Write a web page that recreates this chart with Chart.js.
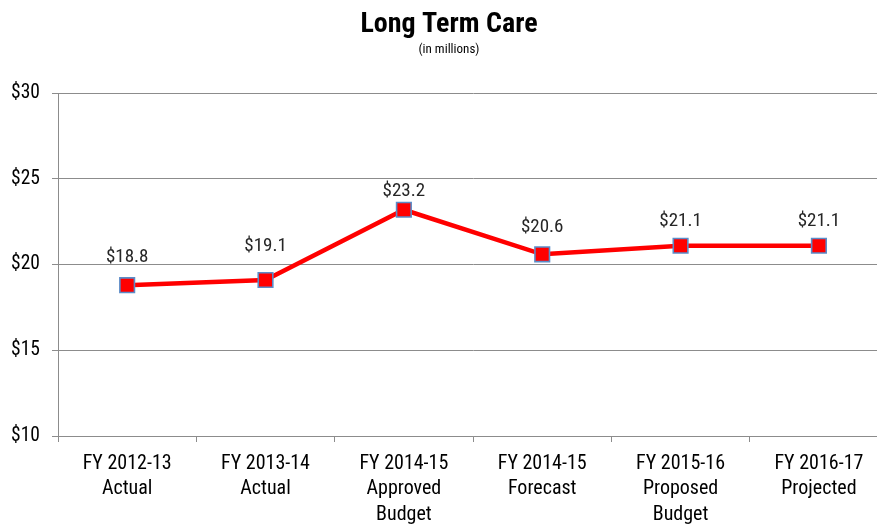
<!DOCTYPE html>
<html>
<head>
<meta charset="utf-8">
<script src="https://cdn.jsdelivr.net/npm/chart.js@4/dist/chart.umd.min.js"></script>
<style>
html,body{margin:0;padding:0;background:#fff;overflow:hidden;width:877px;height:527px;}
#wrap{width:900px;height:527px;}
</style>
</head>
<body>
<div id="wrap"><canvas id="c" width="900" height="527"></canvas></div>
<script>
const categories = [
  ["FY 2012-13","Actual"],
  ["FY 2013-14","Actual"],
  ["FY 2014-15","Approved","Budget"],
  ["FY 2014-15","Forecast"],
  ["FY 2015-16","Proposed","Budget"],
  ["FY 2016-17","Projected"]
];
const values = [18.8, 19.1, 23.2, 20.6, 21.1, 21.1];
const yTicks = [10, 15, 20, 25, 30];
const titleText = "Long Term Care";
const subtitleText = "(in millions)";

// label placement (pixels above each point), as laid out in the original
const labelLift = [28, 34, 19, 27, 24, 24];

const FONT = "'Liberation Sans Narrow', 'Arial Narrow', 'Roboto Condensed', 'Liberation Sans', sans-serif";

const labelPlugin = {
  id: 'valueLabels',
  afterDatasetsDraw(chart) {
    const ctx = chart.ctx;
    const meta = chart.getDatasetMeta(0);
    ctx.save();
    ctx.font = "19px " + FONT;
    ctx.fillStyle = "#262626";
    ctx.textAlign = "center";
    ctx.textBaseline = "middle";
    meta.data.forEach((pt, i) => {
      ctx.fillText("$" + values[i].toFixed(1), pt.x, pt.y - labelLift[i]);
    });
    ctx.restore();
  }
};

new Chart(document.getElementById('c'), {
  type: 'line',
  data: {
    labels: categories,
    datasets: [{
      data: values,
      borderColor: '#ff0000',
      borderWidth: 4.5,
      backgroundColor: '#ff0000',
      pointStyle: 'rect',
      pointRadius: 10.3,
      pointHoverRadius: 10.3,
      pointBackgroundColor: '#ff0000',
      pointBorderColor: '#5b8cc8',
      pointBorderWidth: 1.6,
      tension: 0
    }]
  },
  options: {
    responsive: false,
    animation: false,
    layout: { padding: { left: 0, right: 2, top: 0, bottom: 0 } },
    plugins: {
      legend: { display: false },
      tooltip: { enabled: false },
      title: {
        display: true,
        text: titleText,
        color: '#000',
        font: { family: FONT, size: 28, weight: 'bold', lineHeight: 1.2 },
        padding: { top: 8, bottom: 0 }
      },
      subtitle: {
        display: true,
        text: subtitleText,
        color: '#000',
        font: { family: FONT, size: 13, lineHeight: 1.2 },
        padding: { top: 0, bottom: 36 }
      }
    },
    scales: {
      x: {
        offset: true,
        grid: {
          offset: true,
          drawOnChartArea: false,
          drawTicks: true,
          tickLength: 6,
          color: '#8c8c8c',
          lineWidth: 1
        },
        border: { color: '#8c8c8c', width: 1 },
        ticks: {
          color: '#000',
          font: { family: FONT, size: 20, lineHeight: 1.28 },
          maxRotation: 0,
          autoSkip: false,
          padding: 9
        },
        afterFit(scale) { scale.height = 91; }
      },
      y: {
        min: 10,
        max: 30,
        afterBuildTicks(scale) { scale.ticks = yTicks.map(v => ({ value: v })); },
        grid: {
          color: '#8c8c8c',
          lineWidth: 1,
          tickLength: 6
        },
        border: { color: '#8c8c8c', width: 1 },
        ticks: {
          color: '#000',
          font: { family: FONT, size: 19.5 },
          padding: 12,
          callback: v => '$' + v
        },
        afterFit(scale) { scale.width = 58; }
      }
    }
  },
  plugins: [labelPlugin]
});
</script>
</body>
</html>
